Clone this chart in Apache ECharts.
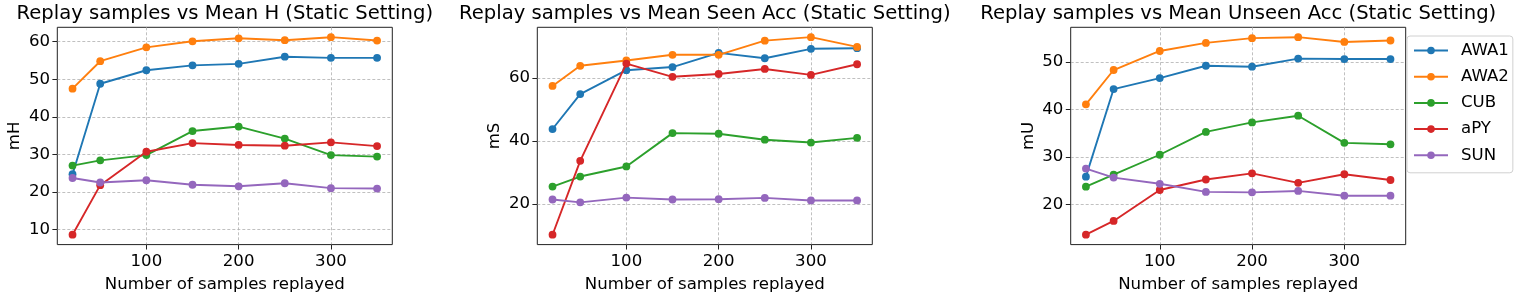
<!DOCTYPE html>
<html>
<head>
<meta charset="utf-8">
<script src="https://cdn.jsdelivr.net/npm/echarts@6/dist/echarts.min.js"></script>
<style>
html,body{margin:0;padding:0;background:#fff;}
#c{width:1522px;height:300px;}
</style>
</head>
<body>
<div id="c"></div>
<script>
// ---- data ----
const samples = [20, 50, 100, 150, 200, 250, 300, 350];
const datasetNames = ['AWA1', 'AWA2', 'CUB', 'aPY', 'SUN'];

const H_AWA1 = [24.7, 48.8, 52.4, 53.7, 54.1, 56.0, 55.7, 55.7];
const H_AWA2 = [47.5, 54.8, 58.5, 60.1, 60.9, 60.4, 61.2, 60.3];
const H_CUB  = [27.0, 28.4, 29.8, 36.2, 37.4, 34.2, 29.8, 29.4];
const H_aPY  = [8.6, 21.8, 30.7, 33.0, 32.5, 32.3, 33.2, 32.2];
const H_SUN  = [23.7, 22.5, 23.1, 21.9, 21.5, 22.3, 21.0, 20.9];

const S_AWA1 = [43.8, 54.9, 62.5, 63.5, 68.0, 66.3, 69.3, 69.5];
const S_AWA2 = [57.5, 63.9, 65.6, 67.4, 67.4, 71.9, 73.0, 69.9];
const S_CUB  = [25.5, 28.7, 31.9, 42.5, 42.3, 40.4, 39.5, 41.0];
const S_aPY  = [10.2, 33.7, 64.6, 60.4, 61.3, 62.9, 61.0, 64.4];
const S_SUN  = [21.4, 20.5, 22.0, 21.4, 21.5, 21.9, 21.1, 21.1];

const U_AWA1 = [25.9, 44.3, 46.6, 49.2, 49.0, 50.7, 50.6, 50.6];
const U_AWA2 = [41.1, 48.3, 52.3, 54.0, 55.0, 55.2, 54.2, 54.5];
const U_CUB  = [23.8, 26.3, 30.5, 35.3, 37.3, 38.7, 33.0, 32.7];
const U_aPY  = [13.7, 16.6, 23.1, 25.3, 26.6, 24.6, 26.4, 25.2];
const U_SUN  = [27.6, 25.7, 24.4, 22.7, 22.6, 22.9, 21.9, 21.9];

const xTicks = [100, 200, 300];
const yTicksH = [10, 20, 30, 40, 50, 60];
const yTicksS = [20, 40, 60];
const yTicksU = [20, 30, 40, 50];

const titles = [
  'Replay samples vs Mean H (Static Setting)',
  'Replay samples vs Mean Seen Acc (Static Setting)',
  'Replay samples vs Mean Unseen Acc (Static Setting)'
];
const yNames = ['mH', 'mS', 'mU'];
const xName = 'Number of samples replayed';

// ---- build ----
const panels = [
  {series: [H_AWA1, H_AWA2, H_CUB, H_aPY, H_SUN], ticks: yTicksH},
  {series: [S_AWA1, S_AWA2, S_CUB, S_aPY, S_SUN], ticks: yTicksS},
  {series: [U_AWA1, U_AWA2, U_CUB, U_aPY, U_SUN], ticks: yTicksU}
];
const colors = ['#1f77b4', '#ff7f0e', '#2ca02c', '#d62728', '#9467bd'];
const FONT = 'DejaVu Sans';
const grids = [
  {left: 57.3, width: 335, top: 27.3, height: 218},
  {left: 537.3, width: 335, top: 27.3, height: 218},
  {left: 1070.7, width: 335, top: 27.3, height: 218}
];

function margins(vals) {
  const mn = Math.min.apply(null, vals), mx = Math.max.apply(null, vals);
  const d = (mx - mn) * 0.05;
  return [mn - d, mx + d];
}
const xr = margins(samples);

const gridOpts = [], xAxes = [], yAxes = [], series = [], titleOpts = [];
panels.forEach((p, i) => {
  const g = grids[i];
  gridOpts.push(Object.assign({show: true, borderColor: '#222', borderWidth: 1, backgroundColor: 'transparent', containLabel: false}, g));
  titleOpts.push({
    text: titles[i], left: g.left + g.width / 2, top: 4, textAlign: 'center', padding: 0,
    textStyle: {fontFamily: FONT, fontSize: 19.6, fontWeight: 'normal', color: '#000'}
  });
  const yr = margins([].concat.apply([], p.series));
  xAxes.push({
    type: 'value', gridIndex: i, min: xr[0], max: xr[1],
    name: xName, nameLocation: 'middle', nameGap: 28,
    nameTextStyle: {fontFamily: FONT, fontSize: 16.6, color: '#000', lineHeight: 20},
    axisLine: {show: false},
    axisTick: {show: true, length: 4.9, customValues: xTicks, lineStyle: {color: '#222', width: 1}},
    axisLabel: {show: true, customValues: xTicks, margin: 8.5, fontFamily: FONT, fontSize: 16.6, color: '#000', lineHeight: 17},
    splitLine: {show: true, lineStyle: {color: '#b0b0b0', width: 0.8, type: [3, 2]}}
  });
  yAxes.push({
    type: 'value', gridIndex: i, min: yr[0], max: yr[1],
    name: yNames[i], nameLocation: 'middle', nameGap: 30, nameRotate: 90,
    nameTextStyle: {fontFamily: FONT, fontSize: 16.6, color: '#000', lineHeight: 20},
    axisLine: {show: false},
    axisTick: {show: true, length: 4.9, customValues: p.ticks, lineStyle: {color: '#222', width: 1}},
    axisLabel: {show: true, customValues: p.ticks, margin: 7.3, fontFamily: FONT, fontSize: 16.6, color: '#000'},
    splitLine: {show: true, lineStyle: {color: '#b0b0b0', width: 0.8, type: [3, 2]}}
  });
  p.series.forEach((vals, j) => {
    series.push({
      type: 'line', name: datasetNames[j], xAxisIndex: i, yAxisIndex: i,
      data: samples.map((x, k) => [x, vals[k]]),
      symbol: 'circle', symbolSize: 7.8, showAllSymbol: true,
      lineStyle: {width: 1.9, color: colors[j]},
      itemStyle: {color: colors[j]},
      emphasis: {disabled: true},
      animation: false, z: 2 + j
    });
  });
});

const chart = echarts.init(document.getElementById('c'), null, {renderer: 'canvas'});
chart.setOption({
  animation: false,
  color: colors,
  title: titleOpts,
  grid: gridOpts,
  xAxis: xAxes,
  yAxis: yAxes,
  legend: {
    data: datasetNames, orient: 'vertical', left: 1407, top: 36,
    padding: [6, 4, 9, 6], itemWidth: 34, itemHeight: 9.5, itemGap: 9.2,
    borderColor: '#d0d0d0', borderWidth: 1, borderRadius: 3, backgroundColor: 'rgba(255,255,255,0.8)',
    textStyle: {fontFamily: FONT, fontSize: 16.6, color: '#000', lineHeight: 17, padding: [0, 0, 0, 8]},
    selectedMode: false
  },
  series: series
});
</script>
</body>
</html>
